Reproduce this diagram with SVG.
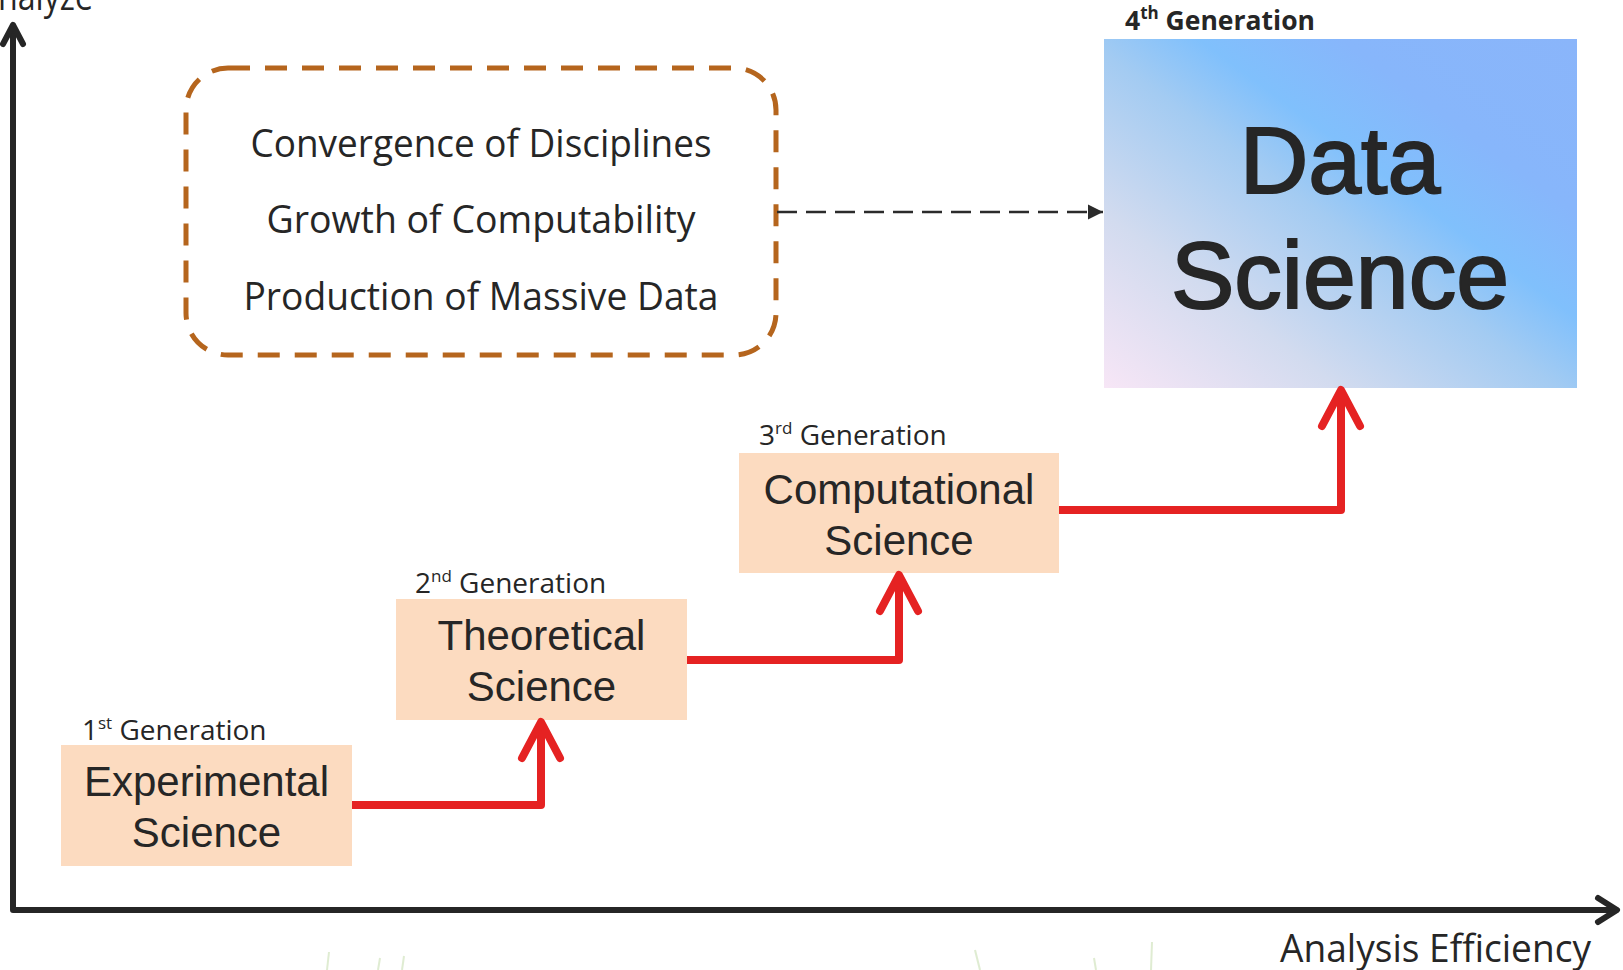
<svg xmlns="http://www.w3.org/2000/svg" width="1623" height="970" viewBox="0 0 1623 970">
  <style>
    .axis { fill: none; stroke: #262626; stroke-width: 6; stroke-linecap: round; stroke-linejoin: round; }
    .step { fill: none; stroke: #e52222; stroke-width: 8; stroke-linecap: butt; stroke-linejoin: round; }
    .head { fill: none; stroke: #e52222; stroke-width: 8; stroke-linecap: round; stroke-linejoin: round; }
    .box { fill: #fcdbc0; }
    .node-text { font-family: "Liberation Sans", Arial, sans-serif; font-size: 42px; fill: #262626; text-anchor: middle; }
    .gen { font-family: "Open Sans", "Noto Sans", sans-serif; font-size: 28px; fill: #262626; }
    .gen-bold { font-family: "Open Sans", "Noto Sans", sans-serif; font-size: 26.5px; font-weight: bold; fill: #262626; }
    .sup { font-size: 17px; }
    .driver { font-family: "Open Sans", "Noto Sans", sans-serif; font-size: 38px; fill: #262626; text-anchor: middle; }
    .axis-label { font-family: "Open Sans", "Noto Sans", sans-serif; font-size: 38px; fill: #262626; }
    .big { font-family: "Liberation Sans", Arial, sans-serif; font-size: 95px; fill: #262626; stroke: #262626; stroke-width: 2; text-anchor: middle; }
    .grass { stroke: #7fb24a; stroke-width: 2; fill: none; opacity: 0.25; }
  </style>
  <defs>
    <linearGradient id="dsFill" x1="0" y1="1" x2="1" y2="0">
      <stop offset="0" stop-color="#f7e6f6"/>
      <stop offset="0.25" stop-color="#d2dbef"/>
      <stop offset="0.48" stop-color="#a3cbf2"/>
      <stop offset="0.6" stop-color="#80c0fc"/>
      <stop offset="0.75" stop-color="#87b6fb"/>
      <stop offset="1" stop-color="#8ab5fa"/>
    </linearGradient>
    <marker id="dashHead" markerWidth="16" markerHeight="16" refX="15" refY="8" orient="auto" markerUnits="userSpaceOnUse">
      <path d="M0,0.5 L15,8 L0,15.5 Z" fill="#2b2b2b"/>
    </marker>
  </defs>

  <!-- axes -->
  <g id="axes">
    <path class="axis" d="M13,26 V910 H1616"/>
    <path class="axis" d="M3,44 L13,25 L23,44"/>
    <path class="axis" d="M1598,898 L1617,910 L1598,922"/>
    <text class="axis-label" x="-2" y="10" textLength="95" lengthAdjust="spacingAndGlyphs">nalyze</text>
    <text class="axis-label" x="1280" y="962" textLength="311" lengthAdjust="spacingAndGlyphs">Analysis Efficiency</text>
  </g>

  <!-- faint grass at the bottom edge -->
  <g id="grass">
    <path class="grass" d="M327,970 L329,952"/>
    <path class="grass" d="M378,970 L380,958"/>
    <path class="grass" d="M402,970 L404,956"/>
    <path class="grass" d="M980,970 L975,950"/>
    <path class="grass" d="M1096,970 L1094,958"/>
    <path class="grass" d="M1151,970 L1152,942"/>
  </g>

  <!-- driving factors -->
  <g id="drivers">
    <rect x="186" y="68" width="590" height="287" rx="42" ry="42" fill="none" stroke="#b5651d" stroke-width="5" stroke-dasharray="22 15"/>
    <text class="driver" x="481" y="157" textLength="461" lengthAdjust="spacingAndGlyphs">Convergence of Disciplines</text>
    <text class="driver" x="481" y="233" textLength="429" lengthAdjust="spacingAndGlyphs">Growth of Computability</text>
    <text class="driver" x="481" y="310" textLength="475" lengthAdjust="spacingAndGlyphs">Production of Massive Data</text>
  </g>

  <!-- generations -->
  <g id="gen1">
    <text class="gen" x="82" y="740">1<tspan class="sup" dy="-11">st</tspan><tspan dy="11"> Generation</tspan></text>
    <rect class="box" x="61" y="745" width="291" height="121"/>
    <text class="node-text" x="206.5" y="796">Experimental</text>
    <text class="node-text" x="206.5" y="847">Science</text>
  </g>

  <g id="gen2">
    <text class="gen" x="415" y="593">2<tspan class="sup" dy="-11">nd</tspan><tspan dy="11"> Generation</tspan></text>
    <rect class="box" x="396" y="599" width="291" height="121"/>
    <text class="node-text" x="541.5" y="650">Theoretical</text>
    <text class="node-text" x="541.5" y="701">Science</text>
  </g>

  <g id="gen3">
    <text class="gen" x="759" y="445">3<tspan class="sup" dy="-11">rd</tspan><tspan dy="11"> Generation</tspan></text>
    <rect class="box" x="739" y="453" width="320" height="120"/>
    <text class="node-text" x="899" y="504">Computational</text>
    <text class="node-text" x="899" y="555">Science</text>
  </g>

  <g id="gen4">
    <text class="gen-bold" x="1125" y="30">4<tspan class="sup" dy="-11">th</tspan><tspan dy="11"> Generation</tspan></text>
    <rect x="1104" y="39" width="473" height="349" fill="url(#dsFill)"/>
    <text class="big" x="1340" y="193">Data</text>
    <text class="big" x="1340" y="308">Science</text>
  </g>

  <!-- connectors -->
  <g id="connectors">
    <path d="M777,212 H1103" fill="none" stroke="#2b2b2b" stroke-width="2.5" stroke-dasharray="20 9" marker-end="url(#dashHead)"/>
    <path class="step" d="M352,805 H541 V724"/>
    <path class="head" d="M522,758 L541,722 L560,758"/>
    <path class="step" d="M687,660 H899 V577"/>
    <path class="head" d="M880,611 L899,575 L918,611"/>
    <path class="step" d="M1059,510 H1341 V392"/>
    <path class="head" d="M1322,426 L1341,390 L1360,426"/>
  </g>
</svg>
